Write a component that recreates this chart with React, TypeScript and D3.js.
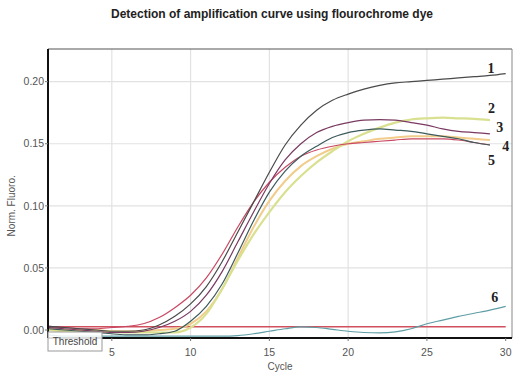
import React from "react";
import * as d3 from "d3";

const cycles30 = d3.range(1, 31);
const cycles29 = d3.range(1, 30);

const curve1 = [0.003, 0.002, 0.001, 0.0, -0.001, -0.001, 0.0, 0.004, 0.011, 0.021, 0.035, 0.055, 0.079, 0.103, 0.127, 0.149, 0.165, 0.177, 0.185, 0.19, 0.194, 0.197, 0.199, 0.2, 0.201, 0.202, 0.203, 0.204, 0.205, 0.2065];
const curve2 = [0.0, -0.001, -0.001, -0.001, -0.0015, -0.002, -0.002, -0.002, -0.002, 0.002, 0.013, 0.033, 0.056, 0.077, 0.095, 0.111, 0.124, 0.135, 0.144, 0.152, 0.158, 0.163, 0.167, 0.1695, 0.1705, 0.171, 0.1705, 0.17, 0.169];
const curve3 = [0.002, 0.001, 0.0, -0.001, -0.002, -0.002, -0.001, 0.002, 0.007, 0.015, 0.028, 0.047, 0.071, 0.095, 0.118, 0.137, 0.15, 0.159, 0.164, 0.167, 0.169, 0.1695, 0.169, 0.167, 0.165, 0.162, 0.16, 0.159, 0.158];
const curve4 = [0.001, 0.0, -0.001, -0.002, -0.003, -0.004, -0.004, -0.003, -0.001, 0.007, 0.019, 0.037, 0.062, 0.088, 0.111, 0.128, 0.14, 0.148, 0.155, 0.159, 0.161, 0.162, 0.161, 0.16, 0.158, 0.156, 0.154, 0.151, 0.149];
const curveOrange = [0.001, 0.0, 0.0, 0.0, -0.001, -0.001, -0.001, 0.0, 0.001, 0.005, 0.015, 0.033, 0.058, 0.083, 0.104, 0.12, 0.132, 0.14, 0.146, 0.15, 0.152, 0.154, 0.155, 0.156, 0.156, 0.156, 0.155, 0.154, 0.153];
const curve5 = [0.003, 0.002, 0.001, 0.001, 0.002, 0.003, 0.005, 0.01, 0.018, 0.028, 0.042, 0.061, 0.083, 0.103, 0.119, 0.131, 0.14, 0.145, 0.148, 0.15, 0.151, 0.152, 0.153, 0.154, 0.154, 0.154, 0.153, 0.151, 0.149];
const curve6 = [-0.004, -0.005, -0.005, -0.005, -0.005, -0.005, -0.005, -0.005, -0.005, -0.005, -0.005, -0.005, -0.0045, -0.003, -0.001, 0.001, 0.0025, 0.002, 0.0005, -0.001, -0.002, -0.0023, -0.0015, 0.001, 0.005, 0.008, 0.011, 0.0135, 0.016, 0.019];
const thresholdValue = 0.0027;

const xTicks = [5, 10, 15, 20, 25, 30];
const yTicks = [0.0, 0.05, 0.1, 0.15, 0.2];

const labelText = ["1", "2", "3", "4", "5", "6"];
const labelCycle = [29.06, 29.1, 29.63, 30.01, 29.1, 29.31];
const labelValue = [0.2108, 0.1786, 0.1638, 0.1482, 0.1369, 0.0268];

const series = [
  { name: "orange", cycles: cycles29, values: curveOrange, color: "#f2cc8a", width: 2 },
  { name: "2", cycles: cycles29, values: curve2, color: "#d9e08f", width: 2.2 },
  { name: "5", cycles: cycles29, values: curve5, color: "#c84862", width: 1.2 },
  { name: "4", cycles: cycles29, values: curve4, color: "#3d5a5c", width: 1.2 },
  { name: "3", cycles: cycles29, values: curve3, color: "#7a3a62", width: 1.2 },
  { name: "1", cycles: cycles30, values: curve1, color: "#4a4a4a", width: 1.2 },
  { name: "6", cycles: cycles30, values: curve6, color: "#5e9ea4", width: 1.2 },
];

export default function App() {
  const W = 513, H = 378;
  const left = 48, right = 512, top = 49, bottom = 338;
  const x = d3.scaleLinear().domain([0.95, 30.4]).range([left, right]);
  const y = d3.scaleLinear().domain([-0.00644, 0.2263]).range([bottom, top]);
  const line = d3
    .line<[number, number]>()
    .x((d) => x(d[0]))
    .y((d) => y(d[1]))
    .curve(d3.curveMonotoneX);
  const font = "'Liberation Sans', Arial, sans-serif";

  return (
    <svg width={W} height={H} style={{ position: "absolute", left: 0, top: 0, background: "#fff" }}>
      <rect x={0} y={0} width={W} height={H} fill="#fff" />
      <text x={272} y={18} textAnchor="middle" fontFamily={font} fontWeight="bold" fontSize={12} fill="#222">
        Detection of amplification curve using flourochrome dye
      </text>
      {xTicks.filter((t) => t < 30).map((t) => (
        <line key={"gx" + t} x1={x(t)} x2={x(t)} y1={top} y2={bottom} stroke="#e2e2e2" strokeWidth={1.2} />
      ))}
      {yTicks.filter((t) => t > 0).map((t) => (
        <line key={"gy" + t} x1={left} x2={right} y1={y(t)} y2={y(t)} stroke="#e2e2e2" strokeWidth={1.2} />
      ))}
      <line x1={left} x2={x(30)} y1={y(thresholdValue)} y2={y(thresholdValue)} stroke="#d0505e" strokeWidth={1.5} />
      {series.map((s) => (
        <path
          key={s.name}
          d={line(s.cycles.map((c, i) => [c, s.values[i]] as [number, number])) || ""}
          fill="none"
          stroke={s.color}
          strokeWidth={s.width}
        />
      ))}
      <line x1={left} x2={right} y1={top} y2={top} stroke="#555" strokeWidth={1.2} />
      <line x1={right} x2={right} y1={top} y2={bottom} stroke="#888" strokeWidth={1} />
      <line x1={left} x2={right} y1={bottom} y2={bottom} stroke="#111" strokeWidth={2} />
      <line x1={left} x2={left} y1={top} y2={bottom} stroke="#111" strokeWidth={2} />
      {yTicks.map((t) => (
        <g key={"yt" + t}>
          <line x1={left - 3} x2={left} y1={y(t)} y2={y(t)} stroke="#777" />
          <text x={left - 4} y={y(t)} dy="0.35em" textAnchor="end" fontFamily={font} fontSize={10.5} fill="#555">
            {t.toFixed(2)}
          </text>
        </g>
      ))}
      {xTicks.map((t) => (
        <g key={"xt" + t}>
          <line x1={x(t)} x2={x(t)} y1={bottom} y2={bottom + 3} stroke="#777" />
          <text x={x(t)} y={356} textAnchor="middle" fontFamily={font} fontSize={10.5} fill="#555">
            {t}
          </text>
        </g>
      ))}
      <text x={280} y={370} textAnchor="middle" fontFamily={font} fontSize={10} fill="#555">
        Cycle
      </text>
      <text
        transform={`translate(15, ${y(0.1)}) rotate(-90)`}
        textAnchor="middle"
        fontFamily={font}
        fontSize={10}
        fill="#555"
      >
        Norm. Fluoro.
      </text>
      <rect x={left} y={332} width={54} height={19} fill="#fff" fillOpacity={0.85} stroke="#999" strokeWidth={1} />
      <text x={left + 27} y={341} dy="0.35em" textAnchor="middle" fontFamily={font} fontSize={10} fill="#444">
        Threshold
      </text>
      {labelText.map((t, i) => (
        <text
          key={"lab" + t}
          x={x(labelCycle[i])}
          y={y(labelValue[i])}
          dy="0.35em"
          textAnchor="middle"
          fontFamily="'Liberation Serif', 'DejaVu Serif', serif"
          fontWeight="bold"
          fontSize={14}
          fill="#222"
        >
          {t}
        </text>
      ))}
    </svg>
  );
}
